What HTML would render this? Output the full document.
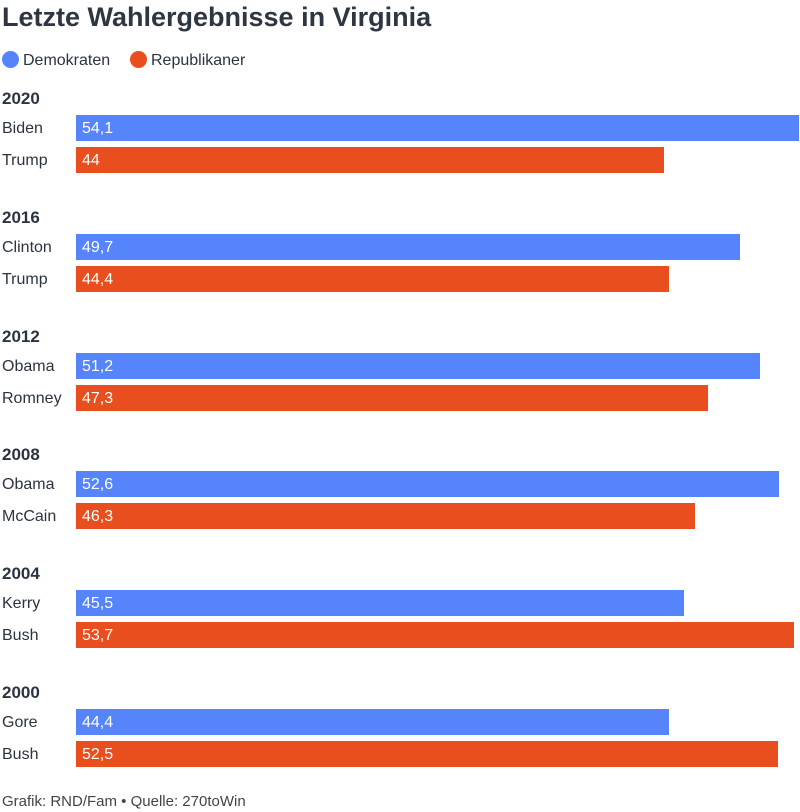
<!DOCTYPE html>
<html><head><meta charset="utf-8">
<style>
body{margin:0;width:800px;height:812px;background:#fff;font-family:"Liberation Sans",sans-serif;color:#2b3340;position:relative;overflow:hidden}
.t{position:absolute;white-space:nowrap}
</style></head><body>
<div class="t" style="left:2px;top:2px;font-size:27px;font-weight:bold;color:#2e3642">Letzte Wahlergebnisse in Virginia</div>
<div class="t" style="left:2px;top:51px;font-size:16px"><span style="display:inline-block;width:17px;height:17px;border-radius:50%;background:#5584fb;vertical-align:-3px;margin-right:4px"></span>Demokraten</div>
<div class="t" style="left:130px;top:51px;font-size:16px"><span style="display:inline-block;width:17px;height:17px;border-radius:50%;background:#e84e1e;vertical-align:-3px;margin-right:4px"></span>Republikaner</div>
<div id="chart"></div>
<div class="t" style="left:2px;top:793px;font-size:15px;color:#444">Grafik: RND/Fam • Quelle: 270toWin</div>
<script>
const years=["2020","2016","2012","2008","2004","2000"];
const demNames=["Biden","Clinton","Obama","Obama","Kerry","Gore"];
const repNames=["Trump","Trump","Romney","McCain","Bush","Bush"];
const demValues=[54.1,49.7,51.2,52.6,45.5,44.4];
const repValues=[44,44.4,47.3,46.3,53.7,52.5];
const x0=76,scale=723/54.1;
function xw(v){return v*scale;}
const c=document.getElementById('chart');
function add(html){const d=document.createElement('div');d.innerHTML=html;const e=d.firstChild;c.appendChild(e);return e;}
years.forEach((y,i)=>{
 const top=88+i*118.8;
 const yl=add(`<div class="t" style="left:2px;top:${top+1}px;font-size:17px;font-weight:bold">${y}</div>`);
 
 
 [[demNames[i],demValues[i],'#5584fb','dem'],[repNames[i],repValues[i],'#e84e1e','rep']].forEach((r,j)=>{
  const by=top+27+j*32;
  const nl=add(`<div class="t" style="left:2px;top:${by+5}px;font-size:16px">${r[0]}</div>`);
  
  
  const b=add(`<div class="t" style="left:${x0}px;top:${by}px;width:${xw(r[1])}px;height:26px;background:${r[2]};color:#fff;font-size:16px;line-height:28px;padding-left:6px;box-sizing:border-box">${String(r[1]).replace('.',',')}</div>`);
  
  
 });
});
</script>
</body></html>
